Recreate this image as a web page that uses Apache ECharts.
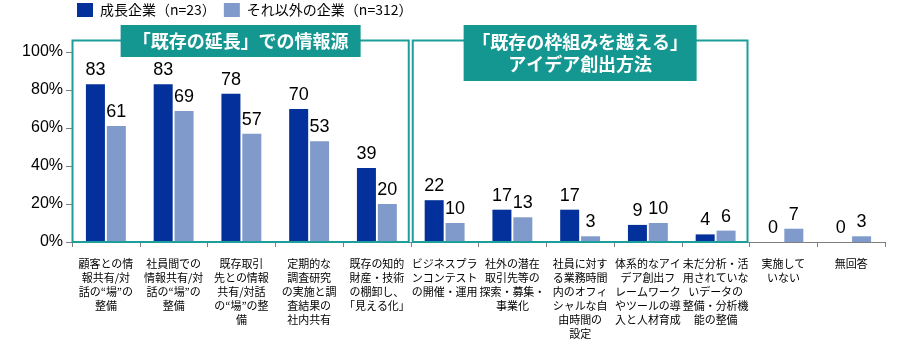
<!DOCTYPE html>
<html>
<head>
<meta charset="utf-8">
<script src="https://cdn.jsdelivr.net/npm/echarts@6/dist/echarts.min.js"></script>
<style>
html,body{margin:0;padding:0;background:#fff;}
#c{width:900px;height:350px;}
</style>
</head>
<body>
<div id="c"></div>
<script>
var categories = [
  '顧客との情\n報共有/対\n話の\u201c場\u201dの\n整備',
  '社員間での\n情報共有/対\n話の\u201c場\u201dの\n整備',
  '既存取引\n先との情報\n共有/対話\nの\u201c場\u201dの整\n備',
  '定期的な\n調査研究\nの実施と調\n査結果の\n社内共有',
  '既存の知的\n財産・技術\nの棚卸し、\n「見える化」',
  'ビジネスプラ\nンコンテスト\nの開催・運用',
  '社外の潜在\n取引先等の\n探索・募集・\n事業化',
  '社員に対す\nる業務時間\n内のオフィ\nシャルな自\n由時間の\n設定',
  '体系的なアイ\nデア創出フ\nレームワーク\nやツールの導\n入と人材育成',
  '未だ分析・活\n用されていな\nいデータの\n整備・分析機\n能の整備',
  '実施して\nいない',
  '無回答'
];
var seriesNames = ['成長企業（n=23）', 'それ以外の企業（n=312）'];
var growthValues = [83, 83, 78, 70, 39, 22, 17, 17, 9, 4, 0, 0];
var otherValues  = [61, 69, 57, 53, 20, 10, 13, 3, 10, 6, 7, 3];
var yTicks = [0, 20, 40, 60, 80, 100];
var groupTitles = ['「既存の延長」での情報源', '「既存の枠組みを越える」\nアイデア創出方法'];
var groupRanges = [[0, 4], [5, 9]];

var DARK = '#03309A';
var LIGHT = '#7F9ACB';
var TEAL = '#149691';
var TEAL_LINE = '#1E9E9A';
var LATIN = '"Liberation Sans", Arial, "Noto Sans CJK JP", sans-serif';
var CJK = '"Noto Sans CJK JP", "Liberation Sans", sans-serif';

var chart = echarts.init(document.getElementById('c'));
var option = {
  animation: false,
  backgroundColor: '#fff',
  legend: {
    left: 77, top: 3, padding: 0,
    itemWidth: 16, itemHeight: 14, itemGap: 8,
    icon: 'rect',
    textStyle: {fontSize: 14, color: '#000', fontFamily: CJK, padding: [0, 0, 0, 2]},
    data: seriesNames
  },
  grid: {left: 72, right: 15, top: 52, bottom: 108},
  xAxis: {
    type: 'category',
    data: categories,
    axisLine: {lineStyle: {color: '#7f7f7f', width: 1}},
    axisTick: {show: true, length: 5, lineStyle: {color: '#7f7f7f'}},
    axisLabel: {interval: 0, fontSize: 11, lineHeight: 14, color: '#000', fontFamily: CJK, margin: 15, verticalAlign: 'top'}
  },
  yAxis: {
    type: 'value',
    min: yTicks[0], max: yTicks[yTicks.length - 1], interval: 20,
    axisLine: {show: true, lineStyle: {color: '#7f7f7f'}},
    axisTick: {show: true, length: 6, inside: false, lineStyle: {color: '#7f7f7f'}},
    splitLine: {show: false},
    axisLabel: {formatter: '{value}%', fontSize: 16, color: '#000', fontFamily: LATIN, margin: 9}
  },
  series: [
    {
      name: seriesNames[0], type: 'bar', data: growthValues,
      barWidth: 19, barGap: '10%',
      itemStyle: {color: DARK},
      label: {show: true, position: 'top', distance: 5, fontSize: 18, color: '#000', fontFamily: LATIN}
    },
    {
      name: seriesNames[1], type: 'bar', data: otherValues,
      barWidth: 19,
      itemStyle: {color: LIGHT},
      label: {show: true, position: 'top', distance: 5, fontSize: 18, color: '#000', fontFamily: LATIN}
    }
  ]
};
chart.setOption(option);

function drawGroups() {
  var c0 = chart.convertToPixel({gridIndex: 0}, [0, 0]);
  var c1 = chart.convertToPixel({gridIndex: 0}, [1, 0]);
  var band = c1[0] - c0[0];
  var baseY = c0[1];
  var topY = chart.convertToPixel({gridIndex: 0}, [0, 106])[1];
  var els = [];
  groupRanges.forEach(function (r, i) {
    var left = chart.convertToPixel({gridIndex: 0}, [r[0], 0])[0] - band / 2;
    var right = chart.convertToPixel({gridIndex: 0}, [r[1], 0])[0] + band / 2;
    var x0 = i === 0 ? left + 0.5 : left + 2;
    var x1 = right - 2;
    els.push({
      type: 'rect', z: 50,
      shape: {x: x0, y: topY, width: x1 - x0, height: baseY - topY},
      style: {fill: 'none', stroke: TEAL_LINE, lineWidth: 2}
    });
    var cx = (x0 + x1) / 2;
    var lines = groupTitles[i].split('\n').length;
    var w = i === 0 ? 240 : 233;
    var h = lines === 1 ? 32 : 56;
    els.push({
      type: 'rect', z: 51,
      shape: {x: cx - w / 2, y: 25, width: w, height: h},
      style: {fill: TEAL}
    });
    els.push({
      type: 'text', z: 52,
      x: cx, y: 25 + h / 2,
      style: {
        text: groupTitles[i], fill: '#fff', fontSize: 18, fontWeight: 'bold',
        fontFamily: CJK, align: 'center', verticalAlign: 'middle', lineHeight: 22
      }
    });
  });
  chart.setOption({graphic: els});
}
drawGroups();
</script>
</body>
</html>
